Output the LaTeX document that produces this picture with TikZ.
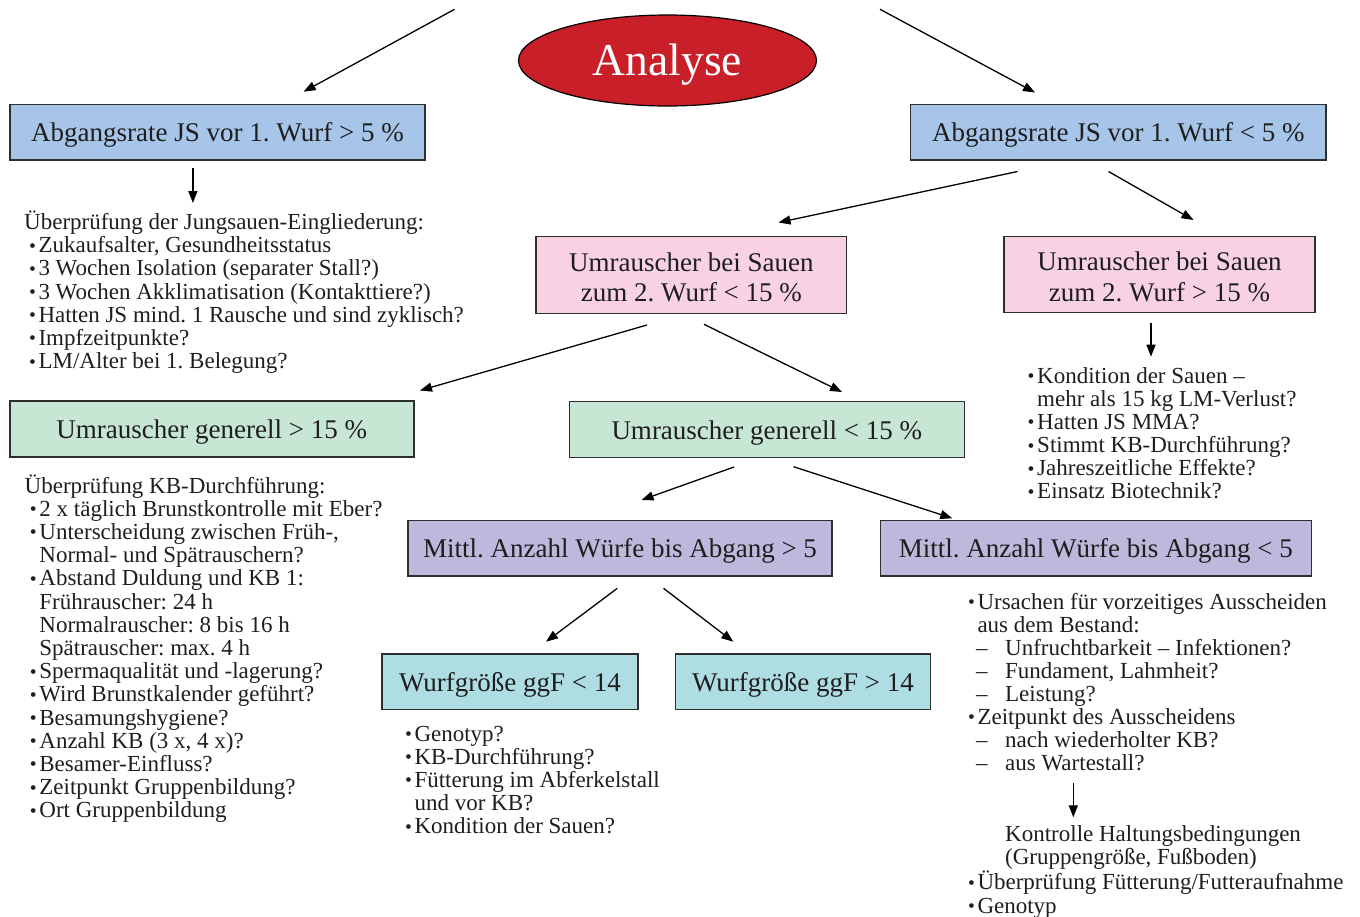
\documentclass[tikz,border=0pt]{standalone}
\usepackage{fontspec}
\usepackage{graphicx}
\setmainfont{Liberation Serif}
\usetikzlibrary{arrows.meta,shapes.geometric}
\definecolor{cblue}{HTML}{A7C5E8}
\definecolor{cpink}{HTML}{F8D2E4}
\definecolor{cgreen}{HTML}{C8E6D4}
\definecolor{clav}{HTML}{BDB8DC}
\definecolor{ccyan}{HTML}{AEDDE3}
\definecolor{cred}{HTML}{C81F28}
\definecolor{boxline}{HTML}{2E2E2E}
\definecolor{ink}{HTML}{1E1E1E}
\newcommand\bul{\makebox[8pt][l]{\hspace{-1.5pt}\raisebox{0.6pt}{\scalebox{0.85}{•}}}}
\newcommand\itm[1][6.5pt]{\hspace*{#1}\bul}
\newcommand\cnt[1][6.5pt]{\hspace*{#1}\hspace*{8pt}}
\newcommand\dsh[1][6.7pt]{\hspace*{#1}\makebox[29pt][l]{–}}
\frenchspacing
\begin{document}
\begin{tikzpicture}[x=1pt,y=-1pt,
  box/.style={draw=boxline,line width=1.4pt,inner sep=0pt,text=ink,
    font=\fontsize{27}{30.5}\selectfont,text height=19pt,text depth=0pt},
  twobox/.style={box,text depth=27pt},
  arr/.style={draw=black,line width=1.3pt,-{Triangle[length=12pt,width=9pt]}},
  txt/.style={anchor=base west,inner sep=0pt,text=ink}]
\useasboundingbox (0,0) rectangle (1360,916);
\renewcommand\arraystretch{1}

% ellipse
\node[ellipse,draw=black,line width=1.2pt,fill=cred,minimum width=298pt,minimum height=91pt,
  inner sep=0pt,text=white,font=\fontsize{45.5}{50}\selectfont,text height=30pt,text depth=0pt]
  (an) at (667.5,60.5) {Analyse};

% boxes
\node[box,fill=cblue,minimum width=415pt,minimum height=55.5pt] (A1) at (217.5,132.2) {Abgangsrate JS vor 1. Wurf > 5 \%};
\node[box,fill=cblue,minimum width=415.5pt,minimum height=55.5pt] (A2) at (1118.4,132.2) {Abgangsrate JS vor 1. Wurf < 5 \%};
\node[twobox,fill=cpink,minimum width=310.7pt,minimum height=76.5pt] (U1) at (691.4,275)
  {\begin{tabular}[t]{@{}c@{}}Umrauscher bei Sauen\\zum 2. Wurf < 15 \%\end{tabular}};
\node[twobox,fill=cpink,minimum width=311pt,minimum height=76pt] (U2) at (1159.5,274.7)
  {\begin{tabular}[t]{@{}c@{}}Umrauscher bei Sauen\\zum 2. Wurf > 15 \%\end{tabular}};
\node[box,fill=cgreen,minimum width=404pt,minimum height=56pt] (G1) at (211.8,429) {Umrauscher generell > 15 \%};
\node[box,fill=cgreen,minimum width=395pt,minimum height=56pt] (G2) at (766.8,429.7) {Umrauscher generell < 15 \%};
\node[box,fill=clav,minimum width=424pt,minimum height=55.3pt] (M1) at (620,548.4) {Mittl. Anzahl Würfe bis Abgang > 5};
\node[box,fill=clav,minimum width=431.2pt,minimum height=55.3pt] (M2) at (1095.9,548.4) {Mittl. Anzahl Würfe bis Abgang < 5};
\node[box,fill=ccyan,minimum width=256pt,minimum height=55.3pt] (W1) at (510,681.7) {Wurfgröße ggF < 14};
\node[box,fill=ccyan,minimum width=255.2pt,minimum height=55.3pt] (W2) at (803,681.7) {Wurfgröße ggF > 14};

% text blocks
\node[txt] (t1) at (24,229.5) {\fontsize{23}{23.2}\selectfont\begin{tabular}[t]{@{}l@{}}
Überprüfung der Jungsauen-Eingliederung:\\
\itm[6.3pt]Zukaufsalter, Gesundheitsstatus\\
\itm[6.3pt]3 Wochen Isolation (separater Stall?)\\
\itm[6.3pt]3 Wochen Akklimatisation (Kontakttiere?)\\
\itm[6.3pt]Hatten JS mind. 1 Rausche und sind zyklisch?\\
\itm[6.3pt]Impfzeitpunkte?\\
\itm[6.3pt]LM/Alter bei 1. Belegung?
\end{tabular}};

\node[txt] (t2) at (1029,383.5) {\fontsize{23}{23}\selectfont\begin{tabular}[t]{@{}l@{}}
\itm[0pt]Kondition der Sauen –\\
\cnt[0pt]mehr als 15 kg LM-Verlust?\\
\itm[0pt]Hatten JS MMA?\\
\itm[0pt]Stimmt KB-Durchführung?\\
\itm[0pt]Jahreszeitliche Effekte?\\
\itm[0pt]Einsatz Biotechnik?
\end{tabular}};

\node[txt] (t3) at (24.5,493) {\fontsize{23}{23.2}\selectfont\begin{tabular}[t]{@{}l@{}}
Überprüfung KB-Durchführung:\\
\itm[6.7pt]2 x täglich Brunstkontrolle mit Eber?\\
\itm[6.7pt]Unterscheidung zwischen Früh-,\\
\cnt[6.7pt]Normal- und Spätrauschern?\\
\itm[6.7pt]Abstand Duldung und KB 1:\\
\cnt[6.7pt]Frührauscher: 24 h\\
\cnt[6.7pt]Normalrauscher: 8 bis 16 h\\
\cnt[6.7pt]Spätrauscher: max. 4 h\\
\itm[6.7pt]Spermaqualität und -lagerung?\\
\itm[6.7pt]Wird Brunstkalender geführt?\\
\itm[6.7pt]Besamungshygiene?\\
\itm[6.7pt]Anzahl KB (3 x, 4 x)?\\
\itm[6.7pt]Besamer-Einfluss?\\
\itm[6.7pt]Zeitpunkt Gruppenbildung?\\
\itm[6.7pt]Ort Gruppenbildung
\end{tabular}};

\node[txt] (t4) at (406.3,741.3) {\fontsize{23}{23.05}\selectfont\begin{tabular}[t]{@{}l@{}}
\itm[0pt]Genotyp?\\
\itm[0pt]KB-Durchführung?\\
\itm[0pt]Fütterung im Abferkelstall\\
\cnt[0pt]und vor KB?\\
\itm[0pt]Kondition der Sauen?
\end{tabular}};

\node[txt] (t5) at (969.3,609.3) {\fontsize{23}{22.95}\selectfont\begin{tabular}[t]{@{}l@{}}
\itm[0pt]Ursachen für vorzeitiges Ausscheiden\\
\cnt[0pt]aus dem Bestand:\\
\dsh Unfruchtbarkeit – Infektionen?\\
\dsh Fundament, Lahmheit?\\
\dsh Leistung?\\
\itm[0pt]Zeitpunkt des Ausscheidens\\
\dsh nach wiederholter KB?\\
\dsh aus Wartestall?
\end{tabular}};

\node[txt] (t6) at (969.3,841) {\fontsize{23}{23.3}\selectfont\begin{tabular}[t]{@{}l@{}}
\hspace*{35.7pt}Kontrolle Haltungsbedingungen\\
\hspace*{35.7pt}(Gruppengröße, Fußboden)\\
\itm[0pt]Überprüfung Fütterung/Futteraufnahme\\
\itm[0pt]Genotyp
\end{tabular}};

% connector end points
\coordinate (s1) at (454.5,9.3);   \coordinate (e1) at (303.6,91.7);
\coordinate (s2) at (880,9.3);     \coordinate (e2) at (1035,92.5);
\coordinate (s3) at (192.9,168.3); \coordinate (e3) at (192.9,203);
\coordinate (s4) at (1017.5,171.5);\coordinate (e4) at (778.5,222.5);
\coordinate (s5) at (1108.5,171.5);\coordinate (e5) at (1193.5,220);
\coordinate (s6) at (1151,322.7);  \coordinate (e6) at (1151,356.7);
\coordinate (s7) at (647,325);     \coordinate (e7) at (420,390.5);
\coordinate (s8) at (704,324.3);   \coordinate (e8) at (842,392);
\coordinate (s9) at (734,467);     \coordinate (e9) at (641.5,500);
\coordinate (s10) at (793.6,466.7);\coordinate (e10) at (952.3,518.3);
\coordinate (s11) at (617.3,588.3);\coordinate (e11) at (546,641.7);
\coordinate (s12) at (663.5,588.3);\coordinate (e12) at (733.3,641.7);
\coordinate (s13) at (1073.3,783.3);\coordinate (e13) at (1073.3,817.3);

\foreach \i in {1,...,13} {\draw[arr] (s\i) -- (e\i);}
\end{tikzpicture}
\end{document}
